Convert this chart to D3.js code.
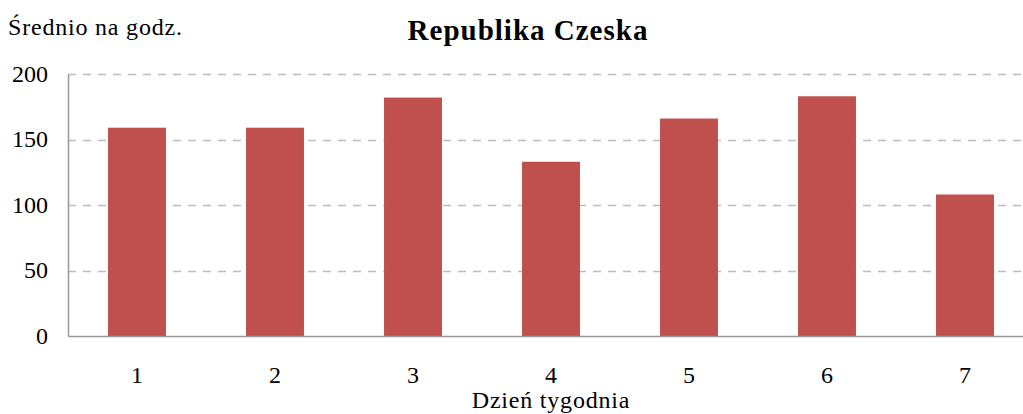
<!DOCTYPE html>
<html>
<head>
<meta charset="utf-8">
<script src="https://cdn.jsdelivr.net/npm/d3@7"></script>
<style>
  body { margin: 0; background: #fff; }
  text { font-family: "Liberation Serif", "Times New Roman", serif; fill: #000; }
</style>
</head>
<body>
<div id="chart"></div>
<script>
var days = ["1", "2", "3", "4", "5", "6", "7"];
var avgPerHour = [159, 159, 182, 133, 166, 183, 108];
var yTicks = [0, 50, 100, 150, 200];

var width = 1023, height = 414;
var margin = {left: 68, top: 74, bottom: 78};

var svg = d3.select("#chart").append("svg")
  .attr("width", width)
  .attr("height", height);

/* plot area runs slightly past the right edge, like the source */
var x = d3.scaleBand().domain(days).range([margin.left, 1034]).paddingInner(0.58).paddingOuter(0.29),
    y = d3.scaleLinear().domain([0, 200]).range([height - margin.bottom, margin.top]);

svg.append("g")
  .selectAll("line")
  .data(yTicks.filter(function(d) { return d > 0; }))
  .enter().append("line")
    .attr("x1", margin.left)
    .attr("x2", width)
    .attr("y1", function(d) { return Math.round(y(d)) + 0.5; })
    .attr("y2", function(d) { return Math.round(y(d)) + 0.5; })
    .attr("stroke", "#bdbdbd")
    .attr("stroke-width", 1.3)
    .attr("stroke-dasharray", "8,7");

svg.append("g")
  .selectAll("rect")
  .data(avgPerHour)
  .enter().append("rect")
    .attr("x", function(d, i) { return x(days[i]); })
    .attr("y", function(d) { return y(d); })
    .attr("width", x.bandwidth())
    .attr("height", function(d) { return y(0) - y(d); })
    .attr("fill", "#c0504d");

var yAxis = d3.axisLeft(y).tickValues(yTicks).tickSize(0).tickPadding(20);
var gY = svg.append("g")
  .attr("transform", "translate(" + margin.left + ",0)")
  .call(yAxis)
  .attr("font-family", null)
  .attr("font-size", null);
gY.select(".domain").attr("stroke", "#999").attr("stroke-width", 1.5);
gY.selectAll("text").style("font-size", "24px").attr("dy", "0.3em");

var xAxis = d3.axisBottom(x).tickSize(0).tickPadding(30);
var gX = svg.append("g")
  .attr("transform", "translate(0," + y(0) + ")")
  .call(xAxis)
  .attr("font-family", null)
  .attr("font-size", null);
gX.select(".domain").attr("stroke", "#999").attr("stroke-width", 1.5);
gX.selectAll("text").style("font-size", "24px");

svg.append("text")
  .attr("x", 528)
  .attr("y", 40)
  .attr("text-anchor", "middle")
  .style("font-size", "29px")
  .style("font-weight", "bold")
  .style("letter-spacing", "1px")
  .text("Republika Czeska");

svg.append("text")
  .attr("x", 8)
  .attr("y", 35)
  .style("font-size", "24px")
  .style("letter-spacing", "0.8px")
  .text("Średnio na godz.");

svg.append("text")
  .attr("x", 551)
  .attr("y", 408)
  .attr("text-anchor", "middle")
  .style("font-size", "24px")
  .style("letter-spacing", "0.8px")
  .text("Dzień tygodnia");
</script>
</body>
</html>
